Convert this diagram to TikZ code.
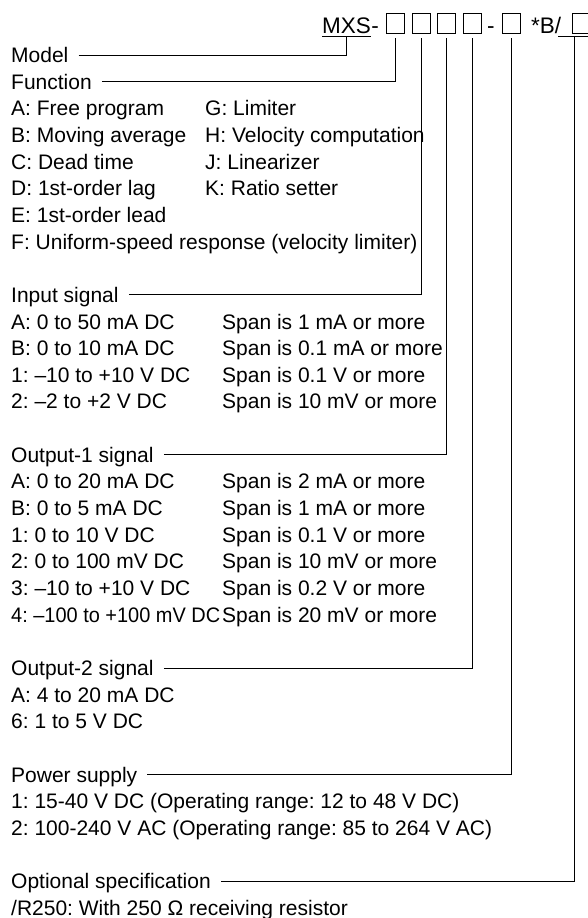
\documentclass[tikz,border=0pt]{standalone}
\usepackage{fontspec}
\usepackage{graphicx}
\setmainfont{Liberation Sans}
\frenchspacing
\begin{document}
\begin{tikzpicture}[x=1pt,y=-1pt,
  lbl/.style={anchor=west, inner sep=0pt, text height=15pt, text depth=0pt, font=\fontsize{21}{26}\selectfont},
  hdr/.style={anchor=base west, inner sep=0pt, font=\fontsize{22.5}{27}\selectfont},
  codebox/.style={draw, line width=0.8pt, minimum width=18pt, minimum height=20pt, inner sep=0pt, anchor=north west},
  conn/.style={line width=0.9pt}]
\useasboundingbox (0,0) rectangle (587,918);

% header
\node[hdr] (mxs) at (322,33) {MXS};
\node[hdr] (dash1) at (mxs.base east) {-};
\node[codebox] (b1) at (386,13) {};
\node[codebox] (b2) at (412,13) {};
\node[codebox] (b3) at (437,13) {};
\node[codebox] (b4) at (463,13) {};
\node[hdr] (dash2) at (487,33) {-};
\node[codebox] (b5) at (502,13) {};
\node[hdr] (opt0) at (531,33) {*B/};
\node[codebox] (b6) at (572,13) {};
\coordinate (mxsu) at ([yshift=-3.5pt]mxs.base);
\coordinate (ulA) at (558,36.5);
\coordinate (ulB) at (592,36.5);
\coordinate (b6u) at (574,36.5);
\draw[conn] ([yshift=-3.5pt]mxs.base west) -- ([yshift=-3.5pt]mxs.base east);
\draw[conn] (ulA) -- (ulB);

% labels
\node[lbl] (model) at (11,55) {Model};
\node[lbl] (func) at (11,81.65) {Function};
\node[lbl] (fA) at (11,108.3) {A: Free program};
\node[lbl] (fB) at (11,134.95) {B: Moving average};
\node[lbl] (fC) at (11,161.6) {C: Dead time};
\node[lbl] (fD) at (11,188.25) {D: 1st-order lag};
\node[lbl] (fE) at (11,214.9) {E: 1st-order lead};
\node[lbl] (fF) at (11,241.55) {F: Uniform-speed response (velocity limiter)};
\node[lbl] (fG) at (205,108.3) {G: Limiter};
\node[lbl] (fH) at (205,134.95) {H: Velocity computation};
\node[lbl] (fJ) at (205,161.6) {J: Linearizer};
\node[lbl] (fK) at (205,188.25) {K: Ratio setter};

\node[lbl] (inp) at (11,294.85) {Input signal};
\node[lbl] (iA) at (11,321.5) {A: 0 to 50 mA DC};
\node[lbl] (iB) at (11,348.15) {B: 0 to 10 mA DC};
\node[lbl] (i1) at (11,374.8) {1: –10 to +10 V DC};
\node[lbl] (i2) at (11,401.45) {2: –2 to +2 V DC};
\node[lbl] (iAs) at (222,321.5) {Span is 1 mA or more};
\node[lbl] (iBs) at (222,348.15) {Span is 0.1 mA or more};
\node[lbl] (i1s) at (222,374.8) {Span is 0.1 V or more};
\node[lbl] (i2s) at (222,401.45) {Span is 10 mV or more};

\node[lbl] (out1) at (11,454.75) {Output-1 signal};
\node[lbl] (oA) at (11,481.4) {A: 0 to 20 mA DC};
\node[lbl] (oB) at (11,508.05) {B: 0 to 5 mA DC};
\node[lbl] (o1) at (11,534.7) {1: 0 to 10 V DC};
\node[lbl] (o2) at (11,561.35) {2: 0 to 100 mV DC};
\node[lbl] (o3) at (11,588) {3: –10 to +10 V DC};
\node[lbl] (o4) at (11,614.65) {\scalebox{0.95}[1]{4: –100 to +100 mV DC}};
\node[lbl] (oAs) at (222,481.4) {Span is 2 mA or more};
\node[lbl] (oBs) at (222,508.05) {Span is 1 mA or more};
\node[lbl] (o1s) at (222,534.7) {Span is 0.1 V or more};
\node[lbl] (o2s) at (222,561.35) {Span is 10 mV or more};
\node[lbl] (o3s) at (222,588) {Span is 0.2 V or more};
\node[lbl] (o4s) at (222,614.65) {Span is 20 mV or more};

\node[lbl] (out2) at (11,667.95) {Output-2 signal};
\node[lbl] (pA) at (11,694.6) {A: 4 to 20 mA DC};
\node[lbl] (p6) at (11,721.25) {6: 1 to 5 V DC};

\node[lbl] (pow) at (11,774.55) {Power supply};
\node[lbl] (w1) at (11,801.2) {1: 15-40 V DC (Operating range: 12 to 48 V DC)};
\node[lbl] (w2) at (11,827.85) {2: 100-240 V AC (Operating range: 85 to 264 V AC)};

\node[lbl] (optl) at (11,881.15) {Optional specification};
\node[lbl] (r250) at (11,907.8) {/R250: With 250 Ω receiving resistor};

% connectors
\draw[conn] ([xshift=10pt]model.east) -| (mxsu);
\draw[conn] ([xshift=10pt]func.east) -| ([yshift=-4pt]b1.south);
\draw[conn] ([xshift=10pt]inp.east) -| ([yshift=-4pt]b2.south);
\draw[conn] ([xshift=10pt]out1.east) -| ([yshift=-4pt]b3.south);
\draw[conn] ([xshift=10pt]out2.east) -| ([yshift=-4pt]b4.south);
\draw[conn] ([xshift=10pt]pow.east) -| ([yshift=-4pt]b5.south);
\draw[conn] ([xshift=10pt]optl.east) -| (b6u);
\end{tikzpicture}
\end{document}
